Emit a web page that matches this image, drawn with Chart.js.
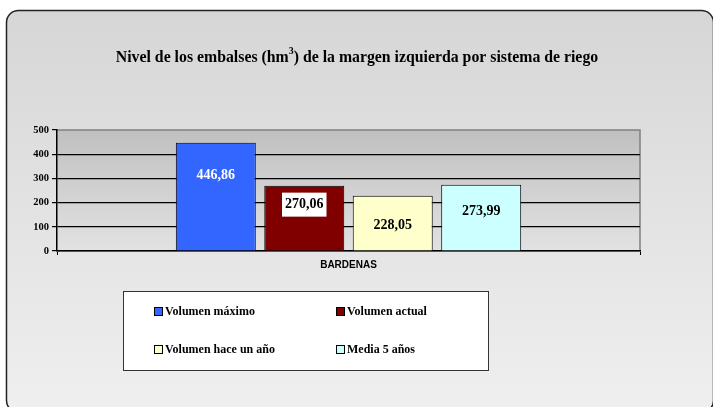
<!DOCTYPE html>
<html>
<head>
<meta charset="utf-8">
<script src="https://cdn.jsdelivr.net/npm/chart.js@4/dist/chart.umd.min.js"></script>
<style>
  html, body { margin: 0; padding: 0; background: #fff; }
  #wrap { position: relative; width: 713px; height: 407px; }
</style>
</head>
<body>
<div id="wrap"><canvas id="grafico" width="713" height="407"></canvas></div>
<script>
// datos del grafico
var categorias = ["BARDENAS"];
var series = ["Volumen máximo", "Volumen actual", "Volumen hace un año", "Media 5 años"];
var valores = [446.86, 270.06, 228.05, 273.99];
var etiquetasValor = ["446,86", "270,06", "228,05", "273,99"];
var ticksY = [0, 100, 200, 300, 400, 500];

var coloresRelleno = ["#3366FF", "#800000", "#FFFFCC", "#CCFFFF"];
var coloresTexto = ["#ffffff", "#000000", "#000000", "#000000"];
var fondoEtiqueta = [null, "#ffffff", null, null];
var desplazEtiqueta = [33, 19, 30, 27];

var serif = "'Liberation Serif', 'Times New Roman', serif";
var sans = "'Liberation Sans', Arial, sans-serif";

var fondo = {
    id: 'fondo',
    beforeDraw: function (chart) {
        var c = chart.ctx, a = chart.chartArea;
        c.save();
        c.fillStyle = '#ffffff';
        c.fillRect(0, 0, chart.width, chart.height);
        // marco redondeado (se sale por abajo y por la derecha)
        var g = c.createLinearGradient(0, 10, 0, 407);
        g.addColorStop(0, '#d6d6d6');
        g.addColorStop(1, '#efefef');
        c.beginPath();
        c.roundRect(6.5, 10.5, 707, 402, 12);
        c.fillStyle = g;
        c.fill();
        c.lineWidth = 1.5;
        c.strokeStyle = '#222222';
        c.stroke();
        // area de trazado
        var g2 = c.createLinearGradient(0, a.top, 0, a.bottom);
        g2.addColorStop(0, '#c0c0c0');
        g2.addColorStop(1, '#e2e2e2');
        c.fillStyle = g2;
        c.fillRect(a.left, a.top, a.right - a.left, a.bottom - a.top);
        c.strokeStyle = '#808080';
        c.lineWidth = 1.5;
        c.beginPath();
        c.moveTo(a.left, a.top);
        c.lineTo(a.right, a.top);
        c.lineTo(a.right, a.bottom);
        c.stroke();
        c.restore();
    }
};

var extras = {
    id: 'extras',
    afterDraw: function (chart) {
        var c = chart.ctx;
        c.save();
        // titulo con superindice
        var t1 = "Nivel de los embalses (hm", t2 = "3", t3 = ") de la margen izquierda por sistema de riego";
        c.font = "bold 15.8px " + serif;
        var w1 = c.measureText(t1).width, w3 = c.measureText(t3).width;
        c.font = "bold 10px " + serif;
        var w2 = c.measureText(t2).width;
        var x = 357 - (w1 + w2 + w3) / 2, y = 62;
        c.fillStyle = '#000';
        c.textBaseline = 'alphabetic';
        c.textAlign = 'left';
        c.font = "bold 15.8px " + serif;
        c.fillText(t1, x, y);
        c.font = "bold 10px " + serif;
        c.fillText(t2, x + w1, y - 8);
        c.font = "bold 15.8px " + serif;
        c.fillText(t3, x + w1 + w2, y);

        // etiquetas de valor
        c.font = "bold 14px " + serif;
        c.textAlign = 'center';
        c.textBaseline = 'middle';
        chart.data.datasets.forEach(function (ds, i) {
            var bar = chart.getDatasetMeta(i).data[0];
            var ly = bar.y + desplazEtiqueta[i];
            var txt = etiquetasValor[i];
            if (fondoEtiqueta[i]) {
                var tw = c.measureText(txt).width;
                c.fillStyle = fondoEtiqueta[i];
                c.fillRect(bar.x - tw / 2 - 3, ly - 12, tw + 6, 24);
            }
            c.fillStyle = coloresTexto[i];
            c.fillText(txt, bar.x, ly);
        });

        // leyenda
        var lx = 123.5, ly0 = 291.5, lw = 365, lh = 79;
        c.fillStyle = '#ffffff';
        c.fillRect(lx, ly0, lw, lh);
        c.strokeStyle = '#333333';
        c.lineWidth = 1;
        c.strokeRect(lx, ly0, lw, lh);
        c.font = "bold 12px " + serif;
        c.textAlign = 'left';
        c.textBaseline = 'middle';
        var pos = [[155, 312], [337, 312], [155, 350], [337, 350]];
        chart.data.datasets.forEach(function (ds, i) {
            var px = pos[i][0], py = pos[i][1];
            c.fillStyle = ds.backgroundColor;
            c.fillRect(px - 0.5, py - 4.5, 8, 8);
            c.strokeStyle = '#000';
            c.strokeRect(px - 0.5, py - 4.5, 8, 8);
            c.fillStyle = '#000';
            c.fillText(ds.label, px + 10, py);
        });
        c.restore();
    }
};

new Chart(document.getElementById('grafico'), {
    type: 'bar',
    data: {
        labels: categorias,
        datasets: series.map(function (s, i) {
            return {
                label: s,
                data: [valores[i]],
                backgroundColor: coloresRelleno[i],
                borderColor: '#000000',
                borderWidth: 1,
                categoryPercentage: 0.607,
                barPercentage: 0.904
            };
        })
    },
    options: {
        responsive: false,
        animation: false,
        events: [],
        layout: { padding: { left: 18, right: 73, top: 130, bottom: 136 } },
        plugins: {
            legend: { display: false },
            title: { display: false },
            tooltip: { enabled: false }
        },
        scales: {
            x: {
                offset: true,
                afterFit: function (s) { s.height = 20; },
                grid: { offset: true, drawOnChartArea: false, drawTicks: true, tickLength: 4, color: '#000' },
                border: { color: '#000', width: 1.5 },
                ticks: { color: '#000', font: { family: sans, weight: 'bold', size: 10 }, padding: 4 }
            },
            y: {
                min: 0,
                max: 500,
                afterFit: function (s) { s.width = 39; },
                afterBuildTicks: function (s) { s.ticks = ticksY.map(function (v) { return { value: v }; }); },
                grid: {
                    color: function (ctx) { return ctx.tick && ctx.tick.value === 500 ? 'rgba(0,0,0,0)' : '#000'; },
                    lineWidth: 1.2,
                    tickColor: '#000',
                    tickLength: 5
                },
                border: { color: '#000', width: 1.5 },
                ticks: { color: '#000', font: { family: serif, weight: 'bold', size: 10.5 }, padding: 3 }
            }
        }
    },
    plugins: [fondo, extras]
});
</script>
</body>
</html>
